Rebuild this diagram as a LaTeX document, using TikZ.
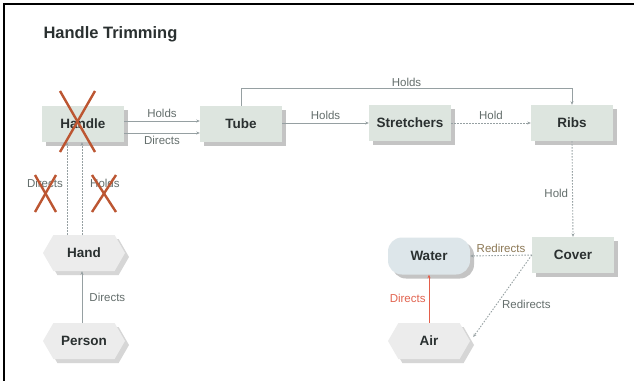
\documentclass[tikz,border=0pt]{standalone}
\usepackage{fontspec}
\setmainfont{Liberation Sans}
\usetikzlibrary{shapes.symbols,shadows,arrows.meta}
\definecolor{boxfill}{RGB}{221,229,223}
\definecolor{hexfill}{RGB}{236,236,236}
\definecolor{waterfill}{RGB}{221,230,234}
\definecolor{shad}{RGB}{196,196,196}
\definecolor{edgec}{RGB}{150,160,162}
\definecolor{lblc}{RGB}{100,110,108}
\definecolor{txtc}{RGB}{42,48,48}
\definecolor{crossc}{RGB}{188,86,50}
\definecolor{redc}{RGB}{228,95,75}
\definecolor{redlbl}{RGB}{226,100,80}
\definecolor{brownlbl}{RGB}{140,120,85}
\tikzset{
  x=1pt, y=-1pt,
  boxnode/.style={rectangle, fill=boxfill, minimum width=82pt, minimum height=36pt,
    font=\fontsize{13.5}{15}\selectfont\bfseries, text=txtc,
    drop shadow={shadow xshift=4pt, shadow yshift=-4pt, fill=shad, opacity=1}},
  hexnode/.style={shape=signal, signal to=west and east, signal pointer angle=120,
    fill=hexfill, minimum width=82pt, minimum height=36pt, inner xsep=0pt,
    font=\fontsize{13.5}{15}\selectfont\bfseries, text=txtc,
    drop shadow={shadow xshift=4pt, shadow yshift=-4pt, fill=shad!70, opacity=1}},
  waternode/.style={rectangle, rounded corners=14pt, fill=waterfill, minimum width=82pt, minimum height=37pt,
    font=\fontsize{13.5}{15}\selectfont\bfseries, text=txtc,
    drop shadow={shadow xshift=4pt, shadow yshift=-4pt, fill=shad, opacity=1}},
  edge/.style={draw=edgec, line width=0.9pt, -{Stealth[length=3.5pt,width=3pt]}},
  dotedge/.style={edge, dash pattern=on 1.5pt off 1.5pt},
  lbl/.style={font=\fontsize{11.5}{13}\selectfont, text=lblc, inner sep=1pt},
  cross/.style={draw=crossc, line width=2.4pt},
}
\begin{document}
\begin{tikzpicture}
\useasboundingbox (0,0) rectangle (634,381);
\fill[white] (0,0) rectangle (634,381);
\draw[black, line width=1.6pt] (634,4) -- (4,4) -- (4,381);

\node[anchor=west, font=\fontsize{16.5}{19}\selectfont\bfseries, text=txtc] (title) at (40,34) {Handle Trimming};

\node[boxnode] (handle) at (83,124) {Handle};
\node[boxnode] (tube) at (241,124) {Tube};
\node[boxnode] (stretchers) at (410,123) {Stretchers};
\node[boxnode] (ribs) at (572,123) {Ribs};
\node[boxnode] (cover) at (573,255) {Cover};
\node[waternode] (water) at (429,256) {Water};
\node[hexnode] (air) at (429,341) {Air};
\node[hexnode] (hand) at (84,253) {Hand};
\node[hexnode] (person) at (84,341) {Person};

% top row
\draw[edge] ([yshift=3pt]handle.east) -- node[lbl, above=2pt] {Holds} ([yshift=3pt]tube.west);
\draw[edge] ([yshift=-9pt]handle.east) -- node[lbl, below=2pt] {Directs} ([yshift=-9pt]tube.west);
\draw[edge] ([yshift=1pt]tube.east) -- node[lbl, above=2pt] {Holds} ([yshift=0pt]stretchers.west);
\draw[dotedge] (stretchers.east) -- node[lbl, above=2pt] {Hold} (ribs.west);
\draw[edge] (tube.north) -- ++(0,-17) coordinate (tc) -| node[lbl, pos=0.25, above=1pt] {Holds} (ribs.north);
\draw[dotedge] (ribs.south) -- node[lbl, left=3pt, pos=0.55] {Hold} (cover.north);

% water / air
\draw[dotedge] (cover.west) -- node[lbl, above=1pt, text=brownlbl] {Redirects} (water.east);
\draw[dotedge] (cover.west) -- node[lbl, right=4pt, pos=0.6] {Redirects} ([xshift=3pt,yshift=4pt]air.east);
\draw[draw=redc, line width=0.9pt, -{Stealth[length=3.5pt,width=3pt]}] (air.north) -- node[lbl, left=2pt, text=redlbl] {Directs} (water.south);

% hand / handle
\draw[dotedge] ([xshift=-17pt]hand.north) -- coordinate[pos=0.55] (dl) ([xshift=-16pt]handle.south);
\draw[dotedge] ([xshift=-2pt]hand.north) -- coordinate[pos=0.55] (hl) ([xshift=-1pt]handle.south);
\node[lbl, anchor=east] (dlbl) at ([xshift=-3pt]dl) {Directs};
\node[lbl, anchor=west] (hlbl) at ([xshift=7pt]hl) {Holds};
\draw[edge] ([xshift=-2pt]person.north) -- node[lbl, right=6pt] {Directs} ([xshift=-2pt]hand.south);

% crosses
\draw[cross] (60,91) -- (95,152);
\draw[cross] (95,91) -- (60,152);
\draw[cross] (35,175) -- (56,212);
\draw[cross] (56,175) -- (35,212);
\draw[cross] (92,175) -- (116,212);
\draw[cross] (116,175) -- (92,212);
\end{tikzpicture}
\end{document}
